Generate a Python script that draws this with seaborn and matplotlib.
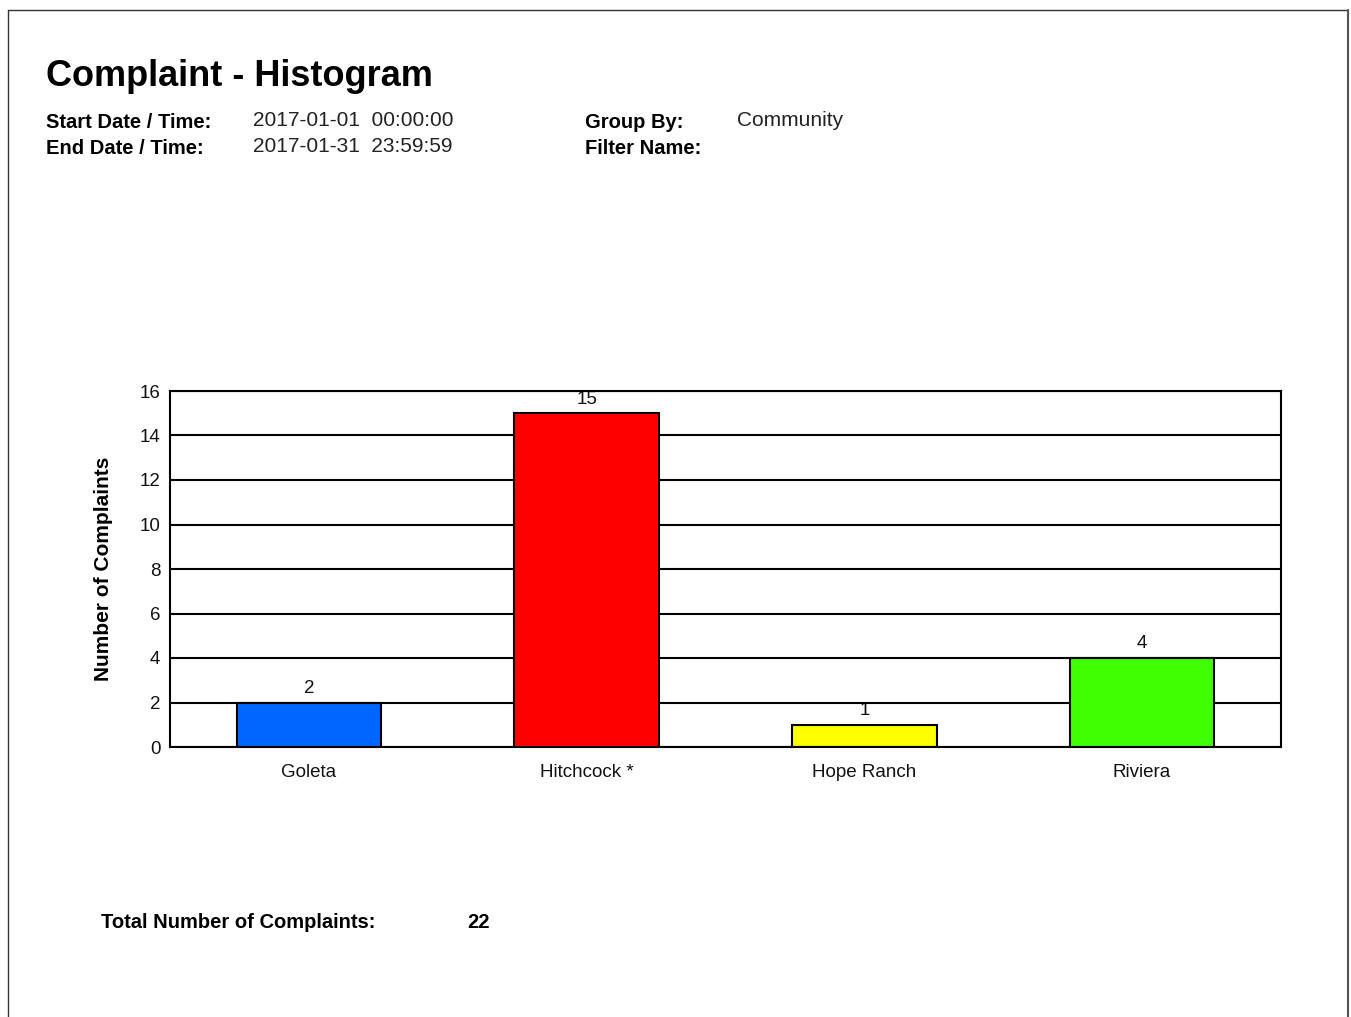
import matplotlib
matplotlib.use("Agg")
import matplotlib.pyplot as plt
import seaborn as sns
import pandas as pd
from matplotlib.lines import Line2D

# chart data
communities = ["Goleta", "Hitchcock *", "Hope Ranch", "Riviera"]
complaints = [2, 15, 1, 4]
bar_colors = ["#0066ff", "#ff0000", "#ffff00", "#40ff00"]
y_ticks = [0, 2, 4, 6, 8, 10, 12, 14, 16]

start_label, start_value = "Start Date / Time:", "2017-01-01  00:00:00"
end_label, end_value = "End Date / Time:", "2017-01-31  23:59:59"
group_label, group_value = "Group By:", "Community"
filter_label = "Filter Name:"
total_label = "Total Number of Complaints:"

sns.set_theme(style="white")
plt.rcParams["font.family"] = ["Liberation Sans", "DejaVu Sans"]

df = pd.DataFrame({"Community": communities, "Complaints": complaints})

W, H = 1351, 1017
fig = plt.figure(figsize=(W / 100, H / 100), dpi=100)
fig.patch.set_facecolor("white")


def fx(px):
    return px / W


def fy(py):
    return 1 - py / H


# page border (left, top, right)
fig.add_artist(Line2D([fx(8), fx(8)], [0, fy(10)], color="#333333", lw=1, transform=fig.transFigure))
fig.add_artist(Line2D([fx(8), fx(1348)], [fy(10), fy(10)], color="#333333", lw=1, transform=fig.transFigure))
fig.add_artist(Line2D([fx(1348), fx(1348)], [0, fy(10)], color="#555555", lw=1.5, transform=fig.transFigure))

ax = fig.add_axes([fx(170), fy(747), fx(1111), 356 / H])

sns.barplot(
    data=df,
    x="Community",
    y="Complaints",
    hue="Community",
    palette=bar_colors,
    legend=False,
    width=0.52,
    edgecolor="black",
    linewidth=1.5,
    saturation=1,
    ax=ax,
    zorder=3,
)

ax.set_xlim(-0.5, len(communities) - 0.5)
ax.set_ylim(0, 16)
ax.set_yticks(y_ticks)
ax.set_yticklabels([str(t) for t in y_ticks], fontsize=13.5, color="#111111")
ax.tick_params(axis="x", labelsize=13.5, colors="#111111", pad=12, length=0)
ax.tick_params(axis="y", pad=7, length=0)
ax.set_xlabel("")
ax.set_ylabel("Number of Complaints", fontsize=15, fontweight="bold", labelpad=19, color="black")

ax.yaxis.grid(True, color="black", linewidth=1.5, zorder=2)
ax.set_axisbelow(False)
for sp in ax.spines.values():
    sp.set_visible(True)
    sp.set_color("black")
    sp.set_linewidth(1.5)
    sp.set_zorder(4)

for container in ax.containers:
    ax.bar_label(container, padding=4, fontsize=13.5, color="#111111", zorder=1)

# header
fig.text(fx(46), fy(77), "Complaint - Histogram", fontsize=26, fontweight="bold", va="center", color="black")
fig.text(fx(46), fy(122), start_label, fontsize=14.5, fontweight="bold", va="center", color="black")
fig.text(fx(46), fy(149), end_label, fontsize=14.5, fontweight="bold", va="center", color="black")
fig.text(fx(253), fy(120), start_value, fontsize=15, va="center", color="#222222")
fig.text(fx(253), fy(147), end_value, fontsize=15, va="center", color="#222222")
fig.text(fx(585), fy(122), group_label, fontsize=14.5, fontweight="bold", va="center", color="black")
fig.text(fx(585), fy(149), filter_label, fontsize=14.5, fontweight="bold", va="center", color="black")
fig.text(fx(737), fy(120), group_value, fontsize=15, va="center", color="#222222")

# footer
fig.text(fx(101), fy(922), total_label, fontsize=14.5, fontweight="bold", va="center", color="black")
fig.text(fx(467), fy(922), str(sum(complaints)), fontsize=14.5, fontweight="bold", va="center", color="black")

fig.savefig("out.png", dpi=100, facecolor="white")
